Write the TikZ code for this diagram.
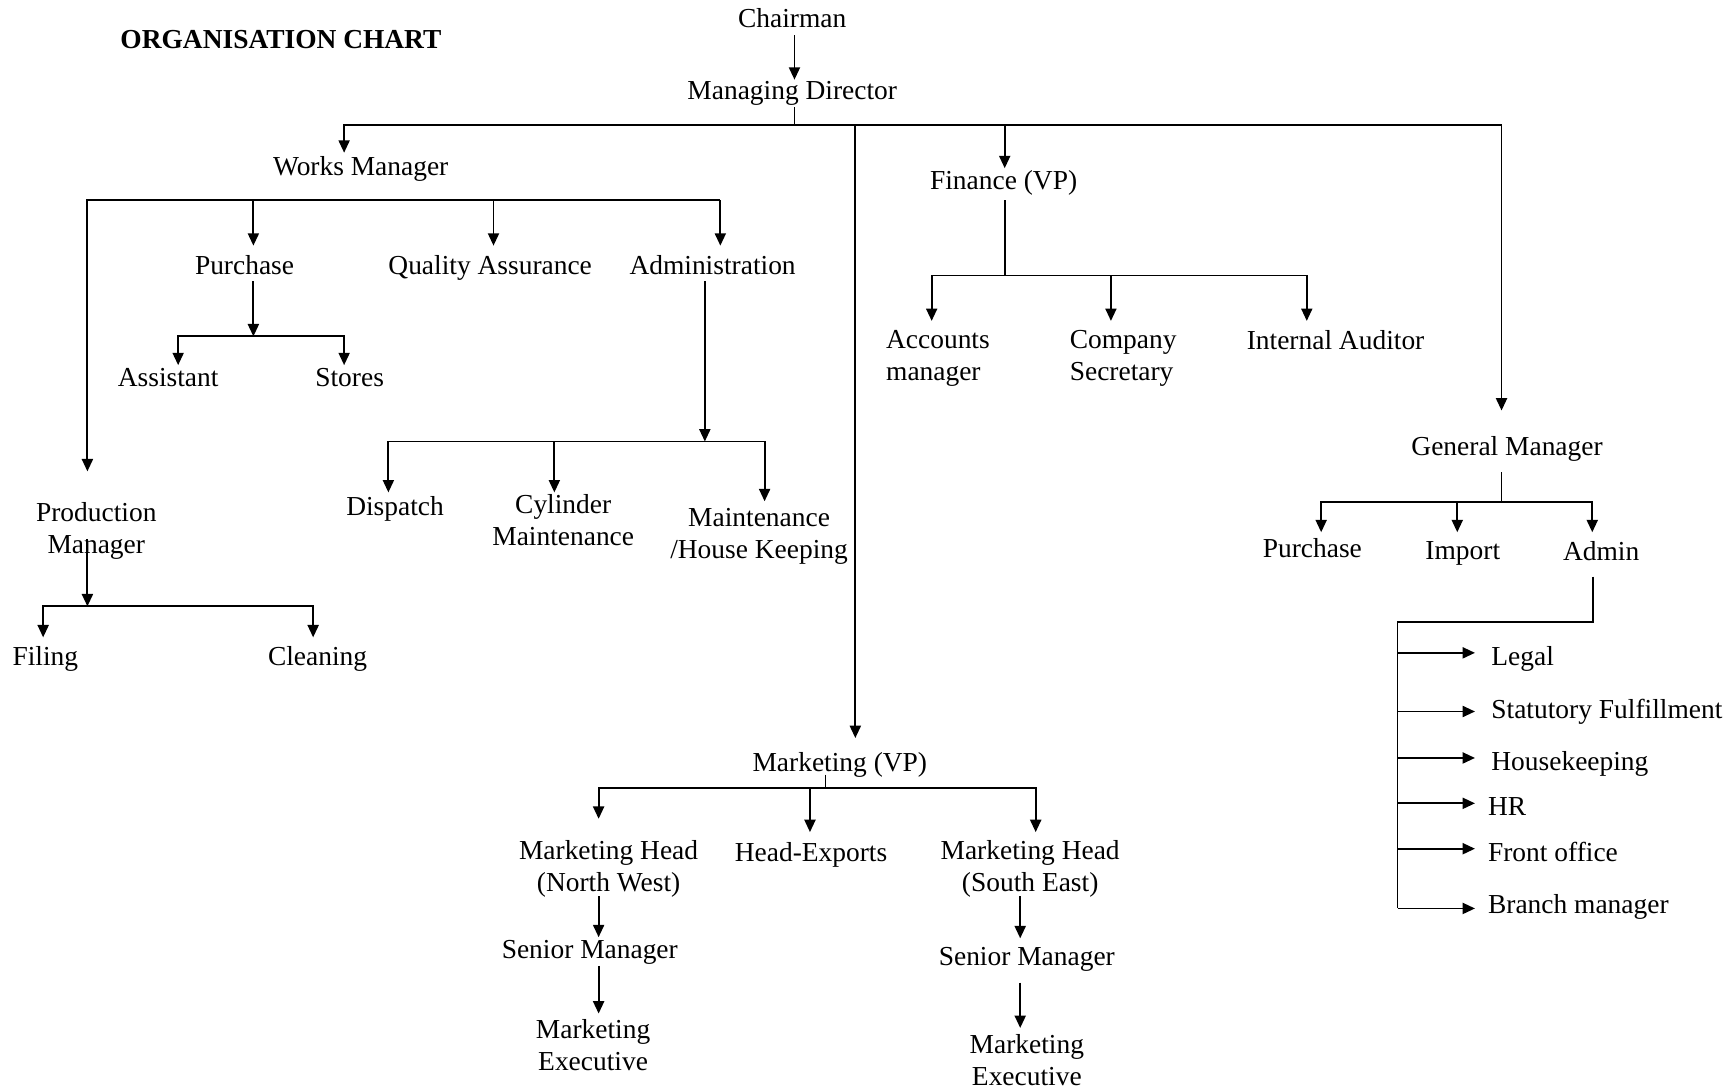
\documentclass[tikz,border=0pt]{standalone}
\usepackage{fontspec}
\setmainfont{Liberation Serif}
\usetikzlibrary{arrows.meta}
\begin{document}
\begin{tikzpicture}[x=0.5pt,y=-0.5pt, line width=0.85pt,
  arr/.style={-{Triangle[length=5.6pt,width=5pt]}},
  lbl/.style={inner sep=0pt, yshift=1.2pt, font=\fontsize{12.4}{14.5}\selectfont, align=center, anchor=north},
  lbll/.style={lbl, align=left, anchor=north west}]
\useasboundingbox (0,0) rectangle (1568,986);
% ---- texts
\node[lbll, font={\fontsize{12.4}{14.5}\selectfont\bfseries}] (title) at (108,29) {ORGANISATION CHART};
\node[lbl] (chair) at (716,9) {Chairman};
\node[lbl] (md) at (716,75) {Managing Director};
\node[lbl] (wm) at (326,143) {Works Manager};
\node[lbl] (fin) at (907,156) {Finance (VP)};
\node[lbl] (gm) at (1362,396) {General Manager};
\node[lbl] (mkt) at (759,682) {Marketing (VP)};
\node[lbl] (pur) at (221,232) {Purchase};
\node[lbl] (qa) at (443,232) {Quality Assurance};
\node[lbl] (adm) at (644,232) {Administration};
\node[lbl] (asst) at (152,334) {Assistant};
\node[lbl] (stores) at (316,334) {Stores};
\node[lbl] (pm) at (87,456) {Production\\Manager};
\node[lbl] (filing) at (41,586) {Filing};
\node[lbl] (clean) at (287,586) {Cleaning};
\node[lbl] (disp) at (357,450) {Dispatch};
\node[lbl] (cyl) at (509,448) {Cylinder\\Maintenance};
\node[lbl] (mhk) at (686,461) {Maintenance\\/House Keeping};
\node[lbll] (acc) at (800,300) {Accounts\\manager};
\node[lbll] (cs) at (966,300) {Company\\Secretary};
\node[lbl] (ia) at (1207,300) {Internal Auditor};
\node[lbl] (gpur) at (1186,488) {Purchase};
\node[lbl] (imp) at (1322,491) {Import};
\node[lbl] (admin) at (1447,491) {Admin};
\node[lbll] (legal) at (1347,586) {Legal};
\node[lbll] (stat) at (1347,633) {Statutory Fulfillment};
\node[lbll] (hk) at (1347,681) {Housekeeping};
\node[lbll] (hr) at (1344,722) {HR};
\node[lbll] (fo) at (1344,763) {Front office};
\node[lbll] (bm) at (1344,810) {Branch manager};
\node[lbl] (mnw) at (550,761) {Marketing Head\\(North West)};
\node[lbl] (hex) at (733,763) {Head-Exports};
\node[lbl] (mse) at (931,761) {Marketing Head\\(South East)};
\node[lbl] (snw) at (533,851) {Senior Manager};
\node[lbl] (sse) at (928,858) {Senior Manager};
\node[lbl] (enw) at (536,923) {Marketing\\Executive};
\node[lbl] (ese) at (928,936) {Marketing\\Executive};
% ---- coordinates
\coordinate (chS) at (718,32);   \coordinate (mdT) at (718,72);
\coordinate (mdS) at (718,97);   \coordinate (mdB) at (718,113);
\coordinate (mbL) at (311,113);  \coordinate (mbR) at (1357,113);
\coordinate (wmT) at (311,138);
\coordinate (mbM) at (773,113);  \coordinate (mktT) at (773,667);
\coordinate (mbF) at (908,113);  \coordinate (finT) at (908,152);
\coordinate (gmT) at (1357,371);
% works manager
\coordinate (wbL) at (79,181);   \coordinate (wbR) at (651,181);
\coordinate (pmT) at (79,426);   \coordinate (admT) at (651,222);
\coordinate (wbP) at (229,181);  \coordinate (purT) at (229,222);
\coordinate (wbQ) at (446,181);  \coordinate (qaT) at (446,222);
% purchase
\coordinate (purS) at (229,254); \coordinate (pbM) at (229,304);
\coordinate (asstT) at (161,330); \coordinate (storesT) at (311,330);
% administration
\coordinate (admS) at (637,254); \coordinate (abM) at (637,399);
\coordinate (dispT) at (351,445); \coordinate (cylT) at (501,445); \coordinate (mhkT) at (691,453);
\coordinate (abL) at (351,399);
% production manager
\coordinate (pmS) at (79,487);   \coordinate (pbB) at (79,548);
\coordinate (filT) at (39,576);  \coordinate (clT) at (283,576);
% finance
\coordinate (finS) at (908,181); \coordinate (fbM) at (908,249);
\coordinate (accT) at (842,290); \coordinate (csT) at (1004,290); \coordinate (iaT) at (1181,290);
% general manager
\coordinate (gmS) at (1357,427); \coordinate (gbM) at (1357,454);
\coordinate (gpT) at (1194,481); \coordinate (impT) at (1317,481); \coordinate (admnT) at (1439,481);
\coordinate (admnS) at (1440,521); \coordinate (admnC) at (1440,562);
\coordinate (vT) at (1263,562);
\coordinate (vL) at (1263,590); \coordinate (vS) at (1263,643); \coordinate (vH) at (1263,685);
\coordinate (vR) at (1263,726); \coordinate (vF) at (1263,767); \coordinate (vB) at (1263,821);
% marketing
\coordinate (mktS) at (746,700); \coordinate (kbM) at (746,712);
\coordinate (nwT) at (541,740);  \coordinate (hexT) at (732,752); \coordinate (seT) at (936,752);
\coordinate (kbL) at (541,712);
\coordinate (nwS) at (541,810);  \coordinate (snwT) at (541,847);
\coordinate (snwS) at (541,873); \coordinate (enwT) at (541,916);
\coordinate (seS) at (922,810);  \coordinate (sseT) at (922,848);
\coordinate (sseS) at (922,888); \coordinate (eseT) at (922,929);
% ---- connectors
\draw[arr] (chS) -- (mdT);
\draw (mdS) -- (mdB);
\draw[arr] (mbR) -- (mbL) -- (wmT);
\draw[arr] (mbM) -- (mktT);
\draw[arr] (mbF) -- (finT);
\draw[arr] (mbR) -- (gmT);
% works manager
\draw[arr] (wbR) -- (wbL) -- (pmT);
\draw[arr] (wbR) -- (admT);
\draw[arr] (wbP) -- (purT);
\draw[arr] (wbQ) -- (qaT);
% purchase
\draw[arr] (purS) -- (pbM);
\draw[arr] (pbM) -| (asstT);
\draw[arr] (pbM) -| (storesT);
% administration
\draw[arr] (admS) -- (abM);
\draw[arr] (abM) -| (mhkT);
\draw[arr] (abM) -| (dispT);
\draw[arr] (abL -| cylT) -- (cylT);
% production manager
\draw[arr] (pmS) -- (pbB);
\draw[arr] (pbB) -| (filT);
\draw[arr] (pbB) -| (clT);
% finance
\draw (finS) -- (fbM);
\draw[arr] (fbM) -| (accT);
\draw[arr] (fbM) -| (iaT);
\draw[arr] (fbM -| csT) -- (csT);
% general manager
\draw (gmS) -- (gbM);
\draw[arr] (gbM) -| (gpT);
\draw[arr] (gbM) -| (admnT);
\draw[arr] (gbM -| impT) -- (impT);
\draw (admnS) -- (admnC) -- (vT) -- (vB);
\foreach \c/\t in {vL/legal, vS/stat, vH/hk, vR/hr, vF/fo, vB/bm}
  \draw[arr] (\c) -- ++(70,0);
% marketing
\draw (mktS) -- (kbM);
\draw[arr] (kbM) -| (nwT);
\draw[arr] (kbM) -| (seT);
\draw[arr] (kbM -| hexT) -- (hexT);
\draw[arr] (nwS) -- (snwT);
\draw[arr] (snwS) -- (enwT);
\draw[arr] (seS) -- (sseT);
\draw[arr] (sseS) -- (eseT);
\end{tikzpicture}
\end{document}
